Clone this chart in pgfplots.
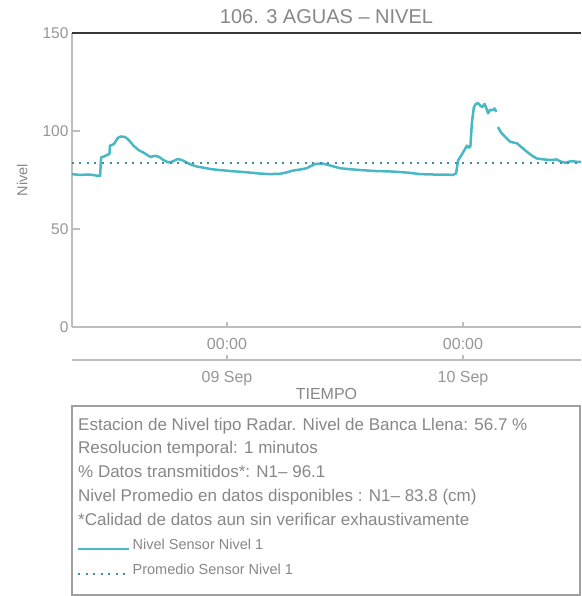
\documentclass[border=0pt]{standalone}
\usepackage{fontspec}
\setmainfont{Liberation Sans}
\usepackage{pgfplots}
\pgfplotsset{compat=1.18}

\definecolor{lineteal}{RGB}{72,184,196}
\definecolor{dotblue}{RGB}{62,140,172}
\definecolor{txtgray}{RGB}{135,135,135}
\definecolor{tickgray}{RGB}{150,150,150}
\definecolor{axgray}{RGB}{190,190,190}
\definecolor{boxgray}{RGB}{160,160,160}
\definecolor{topline}{RGB}{55,55,55}

\begin{document}
\begin{tikzpicture}
\path[use as bounding box] (-72pt,-269pt) rectangle (509pt,327pt);

\begin{axis}[
at={(0pt,0pt)}, anchor=south west,
scale only axis,
width=509pt, height=294pt,
clip=false,
xmin=-15.76, xmax=36.0,
ymin=0, ymax=150,
axis x line=bottom, axis y line=left,
axis line style={-, draw=axgray, line width=1.5pt},
tick align=inside,
major tick length=8pt,
tick style={draw=axgray, line width=1.2pt},
xtick style={/pgfplots/major tick length=5pt},
xtick={0,24},
xticklabels={00:00,00:00},
ytick={0,50,100,150},
/pgf/number format/assume math mode=true,
xticklabel style={font=\fontsize{16}{18}\selectfont, text=tickgray, anchor=base, yshift=-22pt},
yticklabel style={font=\fontsize{15.5}{18}\selectfont, text=tickgray},
ylabel={Nivel},
ylabel style={at={(axis description cs:-0.098,0.5)}, anchor=center, rotate=0,
  font=\fontsize{14.5}{16}\selectfont, text=txtgray},
title={106. 3 AGUAS \textendash{} NIVEL},
title style={at={(axis description cs:0.5,1)}, anchor=base, yshift=3pt,
  font=\fontsize{20}{22}\selectfont, text=txtgray},
legend image code/.code={\draw[#1] (0pt,-4pt) -- (51pt,-4pt);},
legend style={at={(axis description cs:0.0098,-0.713)}, anchor=north west,
  draw=none, fill=none, inner sep=0pt, row sep=9pt,
  font=\fontsize{14.5}{16}\selectfont, text=txtgray},
legend cell align=left,
unbounded coords=jump,
]
\addplot[topline, line width=2.2pt, forget plot] coordinates {(-15.76,150) (36.0,150)};

\addplot[lineteal, line width=2.5pt, line join=round] coordinates {
(-15.76,78.0) (-15.0,77.6) (-14.0,77.8) (-13.3,77.3) (-12.9,77.1)
(-12.8,86.5) (-12.5,87.0) (-12.1,88.0) (-11.95,88.3) (-11.9,92.5)
(-11.5,93.3) (-11.1,96.5) (-10.8,97.2) (-10.4,97.0) (-10.0,95.5)
(-9.5,92.5) (-9.0,90.3) (-8.5,89.0) (-7.8,86.8) (-7.3,87.3)
(-6.9,86.8) (-6.5,85.3) (-6.0,84.0) (-5.6,84.3) (-5.0,85.7)
(-4.6,85.2) (-4.2,84.2) (-3.6,82.7) (-3.0,81.8) (-2.3,81.2)
(-1.7,80.6) (-0.8,80.1) (0.3,79.6) (1.3,79.2) (2.3,78.8)
(3.3,78.3) (4.4,78.0) (5.4,78.2) (6.0,78.8) (6.7,79.8)
(7.5,80.4) (8.1,81.0) (8.6,82.3) (9.0,83.2) (9.7,83.4)
(10.2,82.8) (11.0,81.7) (11.5,81.0) (12.5,80.5) (13.5,80.1)
(15.0,79.6) (16.9,79.3) (18.5,78.7) (19.6,78.0) (21.0,77.8)
(22.0,77.8) (23.0,77.6) (23.3,78.4) (23.5,85.0) (24.0,89.0)
(24.4,92.5) (24.6,91.5) (24.75,92.0) (24.9,104.0) (25.1,112.0)
(25.3,113.8) (25.55,114.2) (25.75,113.0) (25.95,112.2) (26.2,113.8)
(26.35,112.0) (26.55,109.0) (26.75,110.8) (27.0,110.6) (27.2,111.5)
(27.4,109.8) (27.48,nan)
(27.55,102.0) (27.9,99.0) (28.3,97.0) (28.8,94.5) (29.5,93.7)
(30.0,91.5) (30.5,89.4) (31.0,87.5) (31.5,86.0) (32.2,85.5)
(32.9,85.2) (33.5,85.5) (33.9,84.5) (34.4,83.8) (34.8,84.4)
(35.2,84.6) (35.6,84.2) (36.0,84.3)
};
\addlegendentry{Nivel Sensor Nivel 1}

\addplot[dotblue, line width=2pt, dash pattern=on 2pt off 5.5pt] coordinates {(-15.76,83.8) (36.0,83.8)};
\addlegendentry{Promedio Sensor Nivel 1}
\end{axis}

\begin{axis}[
at={(0pt,-33pt)}, anchor=south west,
scale only axis,
width=509pt, height=10pt,
xmin=-15.76, xmax=36.0,
ymin=0, ymax=1,
axis x line=bottom, axis y line=none,
axis line style={-, draw=axgray, line width=1.5pt},
tick align=inside,
major tick length=5pt,
tick style={draw=axgray, line width=1.2pt},
xtick={0,24},
xticklabels={09 Sep,10 Sep},
ytick=\empty,
xticklabel style={font=\fontsize{16}{18}\selectfont, text=tickgray, anchor=base, yshift=-22pt},
xlabel={TIEMPO},
xlabel style={at={(axis description cs:0.5,0)}, anchor=base, yshift=-39pt,
  font=\fontsize{16}{18}\selectfont, text=txtgray},
]
\addplot[draw=none] coordinates {(0,0.5)};
\end{axis}

\draw[boxgray, line width=1.5pt] (0pt,-79pt) rectangle (508pt,-268pt);
\begin{scope}[every node/.style={anchor=base west, inner sep=0pt, text=txtgray,
  font=\fontsize{17}{19}\selectfont}]
\node at (6pt,-103pt) {Estacion de Nivel tipo Radar. Nivel de Banca Llena: 56.7 \%};
\node at (6pt,-126pt) {Resolucion temporal: 1 minutos};
\node at (6pt,-150pt) {\% Datos transmitidos*: N1\textendash{} 96.1};
\node at (6pt,-174pt) {Nivel Promedio en datos disponibles : N1\textendash{} 83.8 (cm)};
\node at (6pt,-198pt) {*Calidad de datos aun sin verificar exhaustivamente};
\end{scope}
\end{tikzpicture}
\end{document}
